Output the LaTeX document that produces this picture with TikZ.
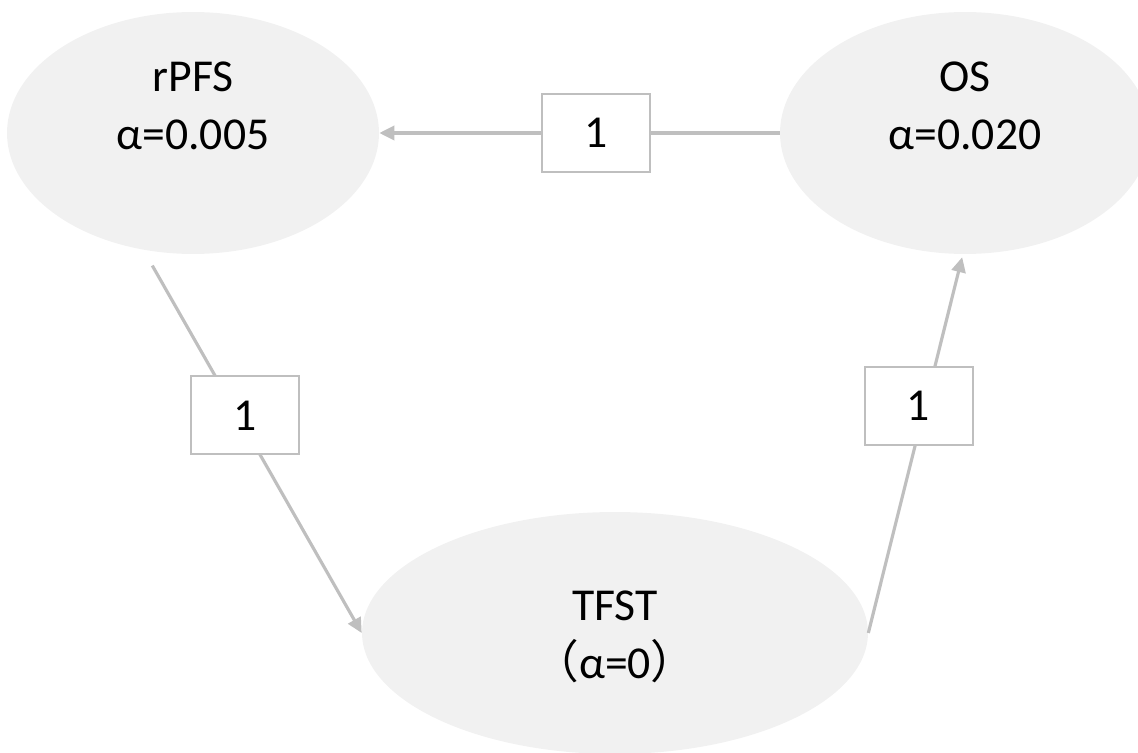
\documentclass[tikz,border=0pt]{standalone}
\usepackage{fontspec}
\setmainfont{Carlito}
\newfontfamily\cjk{Noto Sans CJK SC}
\usetikzlibrary{shapes.geometric, arrows.meta}
\definecolor{linegray}{HTML}{BFBFBF}
\definecolor{fillgray}{HTML}{F1F1F1}
\tikzstyle{stage} = [ellipse, fill=fillgray, inner sep=0pt, minimum height=4.84cm]
\tikzstyle{stagetext} = [align=center, font=\fontsize{26}{33}\selectfont]
\tikzstyle{weight} = [rectangle, minimum width=2.16cm, minimum height=1.56cm, text centered, fill=white, draw=linegray, line width=1.2pt, font=\fontsize{26}{33}\selectfont]
\tikzstyle{link} = [draw=linegray, line width=1.8pt, -{Triangle[length=8.5pt,width=8pt]}]

\begin{document}
\begin{tikzpicture}[x=0.02cm, y=-0.02cm]
    \useasboundingbox (0,0) rectangle (1138,753);
    \node at (193,133) [stage, minimum width=7.44cm] (rpfs) {};
    \node at (965,133) [stage, minimum width=7.40cm] (os) {};
    \node at (615,633) [stage, minimum width=10.12cm] (tfst) {};
    \node at (193,106) [stagetext] (rpfs-t) {rPFS\\α=0.005};
    \node at (965,106) [stagetext] (os-t) {OS\\α=0.020};
    \node at (615,637) [stagetext] (tfst-t) {TFST\\{\cjk （}α=0{\cjk ）}};

    \draw[link] (os.west) -- node[weight, pos=0.459] (w-top) {1} (rpfs.east);
    \draw[link, shorten <=0.36cm] (rpfs.-113) -- node[weight, pos=0.432, xshift=0.14cm] (w-left) {1} (tfst.180);
    \draw[link, shorten >=0.06cm] (tfst.0) -- node[weight, pos=0.6, xshift=-0.13cm] (w-right) {1} (os.-91);
\end{tikzpicture}
\end{document}
